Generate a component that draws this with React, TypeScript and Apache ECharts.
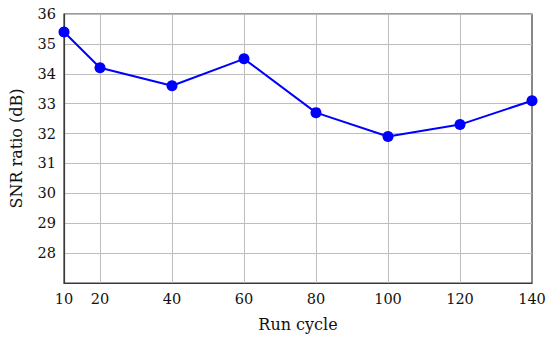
import React, { useEffect, useRef } from "react";
import * as echarts from "echarts";

const runCycles = [10, 20, 40, 60, 80, 100, 120, 140];
const snrValues = [35.4, 34.2, 33.6, 34.5, 32.7, 31.9, 32.3, 33.1];
const xTickLabels = [10, 20, 40, 60, 80, 100, 120, 140];
const verticalGridX = [20, 40, 60, 80, 100, 120];

const FONT = "DejaVu Serif";

export default function App() {
  const ref = useRef<HTMLDivElement>(null);
  useEffect(() => {
    if (!ref.current) return;
    const chart = echarts.init(ref.current, null, { renderer: "svg" });
    chart.setOption({
      animation: false,
      backgroundColor: "#fff",
      grid: {
        left: 63,
        right: 18,
        top: 14,
        bottom: 56,
        show: true,
        borderColor: "#3a3a3a",
        borderWidth: 1.2,
      },
      xAxis: {
        type: "value",
        min: 10,
        max: 140,
        interval: 10,
        name: "Run cycle",
        nameLocation: "middle",
        nameGap: 33,
        nameTextStyle: { fontFamily: FONT, fontSize: 16, color: "#111" },
        axisLine: { show: true, onZero: false, lineStyle: { color: "#3a3a3a", width: 1.2 } },
        axisTick: { show: false },
        splitLine: { show: false },
        axisLabel: {
          margin: 8,
          fontFamily: FONT,
          fontSize: 14.5,
          color: "#111",
          formatter: (v: number) => (xTickLabels.includes(v) ? String(v) : ""),
        },
      },
      yAxis: {
        type: "value",
        min: 27,
        max: 36,
        interval: 1,
        name: "SNR ratio (dB)",
        nameLocation: "middle",
        nameGap: 40,
        nameTextStyle: { fontFamily: FONT, fontSize: 16, color: "#111" },
        axisLine: { show: true, lineStyle: { color: "#3a3a3a", width: 1.2 } },
        axisTick: { show: false },
        splitLine: { show: true, lineStyle: { color: "#bdbdbd", width: 1 } },
        axisLabel: {
          margin: 8,
          fontFamily: FONT,
          fontSize: 14.5,
          color: "#111",
          formatter: (v: number) => (v === 27 ? "" : String(v)),
        },
      },
      series: [
        {
          type: "line",
          data: runCycles.map((x, i) => [x, snrValues[i]]),
          symbol: "circle",
          symbolSize: 11,
          itemStyle: { color: "#0000ff" },
          lineStyle: { color: "#0000ff", width: 2 },
          z: 5,
          markLine: {
            silent: true,
            symbol: "none",
            label: { show: false },
            lineStyle: { color: "#bdbdbd", type: "solid", width: 1 },
            data: verticalGridX.map((x) => ({ xAxis: x })),
            z: 1,
          },
        },
      ],
    });
    return () => chart.dispose();
  }, []);
  return <div ref={ref} style={{ width: 550, height: 339, position: "absolute", left: 0, top: 0 }} />;
}
